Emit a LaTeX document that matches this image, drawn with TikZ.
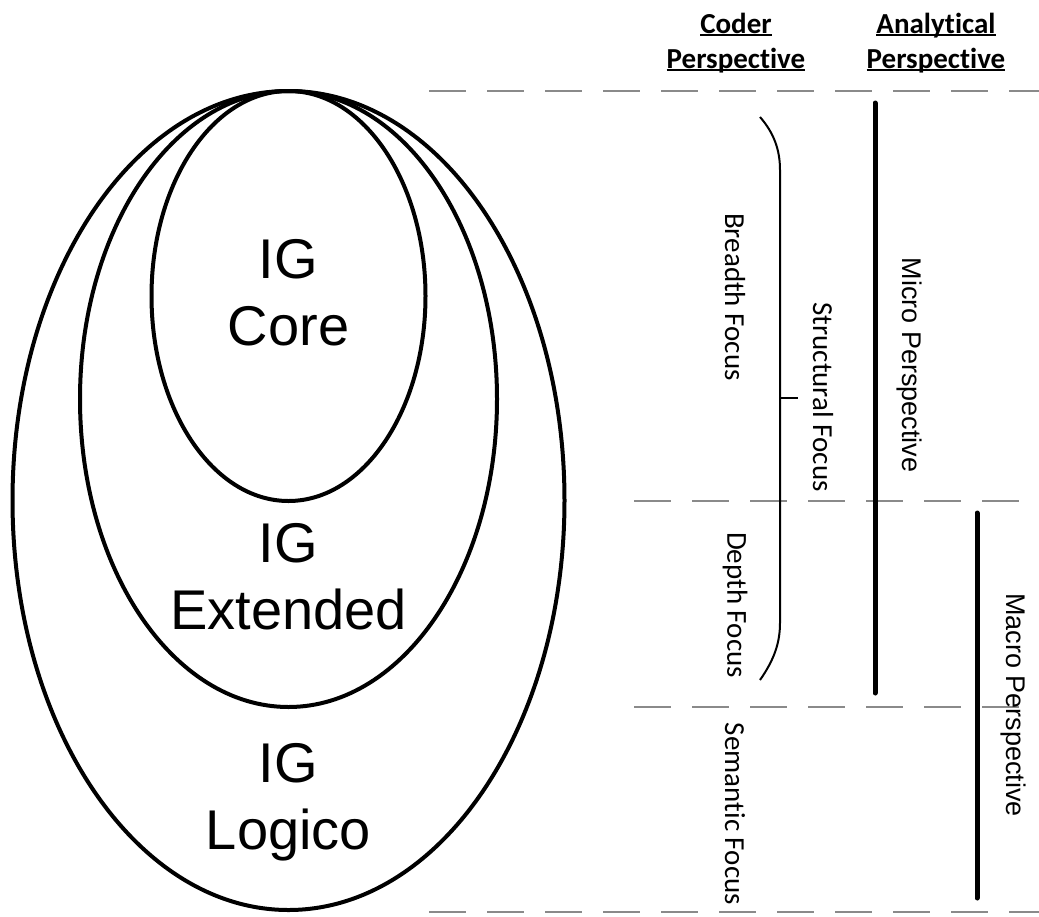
\documentclass[tikz,border=0pt]{standalone}
\usepackage{fontspec}
\setmainfont{Liberation Sans}
\newfontfamily\carlito[Ligatures=NoCommon]{Carlito}
\usetikzlibrary{shapes.geometric}
% underline a word with a rule just below its baseline
\newcommand\hdrul[1]{\setbox0\hbox{#1}\rlap{\rule[-3pt]{\wd0}{2pt}}\box0}
\definecolor{sepgray}{HTML}{8A8A8A}
\tikzset{
  ring/.style={draw, ellipse, line width=4pt, inner sep=0pt, outer sep=0pt},
  ringlabel/.style={font=\fontsize{56}{67}\selectfont, align=center, inner sep=0pt},
  layersep/.style={draw=sepgray, line width=2pt, dash pattern=on 37pt off 21pt},
  spanbar/.style={line width=5pt, line cap=round},
  bracepath/.style={line width=2pt},
  focuslabel/.style={font=\carlito\fontsize{29}{34}\selectfont, rotate=-90, inner sep=0pt},
  persplabel/.style={font=\fontsize{27}{32}\selectfont, rotate=-90, inner sep=0pt},
  header/.style={font=\carlito\bfseries\fontsize{29}{35}\selectfont, align=center, inner sep=0pt}
}
\begin{document}
\begin{tikzpicture}[x=1pt,y=-1pt]
\useasboundingbox[fill=white] (0,0) rectangle (1039,916);

% nested institutional grammar levels
\node[ring, minimum width=552pt, minimum height=819pt] (logico) at (288.5,500.5) {};
\node[ring, minimum width=417pt, minimum height=616pt] (extended) at (288.5,399) {};
\node[ring, minimum width=274pt, minimum height=410pt] (core) at (288.5,296) {};

\node[ringlabel] (coretxt) at (288.5,293) {IG\\Core};
\node[ringlabel] (exttxt) at (288.5,577) {IG\\Extended};
\node[ringlabel] (logtxt) at (288.5,802) {IG\\Logico};

% layer separators
\coordinate (s1a) at (429,91);  \coordinate (s1b) at (1039,91);
\coordinate (s2a) at (634,501); \coordinate (s2b) at (1039,501);
\coordinate (s3a) at (634,707); \coordinate (s3b) at (1039,707);
\coordinate (s4a) at (429,912); \coordinate (s4b) at (1039,912);
\draw[layersep] (s1a) -- (s1b);
\draw[layersep] (s2a) -- (s2b);
\draw[layersep] (s3a) -- (s3b);
\draw[layersep] (s4a) -- (s4b);

% column headers
\node[header] (coderhdr) at (736,43) {\hdrul{Coder}\\\hdrul{Perspective}};
\node[header] (analhdr) at (936,43) {\hdrul{Analytical}\\\hdrul{Perspective}};

% coder perspective: brace grouping breadth and depth
\coordinate (bt) at (760,117);
\coordinate (bt2) at (780,170);
\coordinate (bb2) at (780,623);
\coordinate (bb) at (760,680);
\coordinate (bm) at (780,398);
\coordinate (bmt) at (798,398);
\draw[bracepath] (bt) .. controls (774,133) and (780,150) .. (bt2) -- (bb2)
  .. controls (780,643) and (774,660) .. (bb);
\draw[bracepath] (bm) -- (bmt);

\node[focuslabel] (breadth) at (735,297) {Breadth Focus};
\node[focuslabel] (structural) at (823,397) {Structural Focus};
\node[focuslabel] (depth) at (735,605) {Depth Focus};
\node[focuslabel] (semantic) at (735,814) {Semantic Focus};

% analytical perspective spans
\coordinate (mit) at (875,103); \coordinate (mib) at (875,693);
\coordinate (mat) at (977,513); \coordinate (mab) at (977,898);
\draw[spanbar] (mit) -- (mib);
\draw[spanbar] (mat) -- (mab);
\node[persplabel] (micro) at (909,365) {Micro Perspective};
\node[persplabel] (macro) at (1013,705) {Macro Perspective};
\end{tikzpicture}
\end{document}
